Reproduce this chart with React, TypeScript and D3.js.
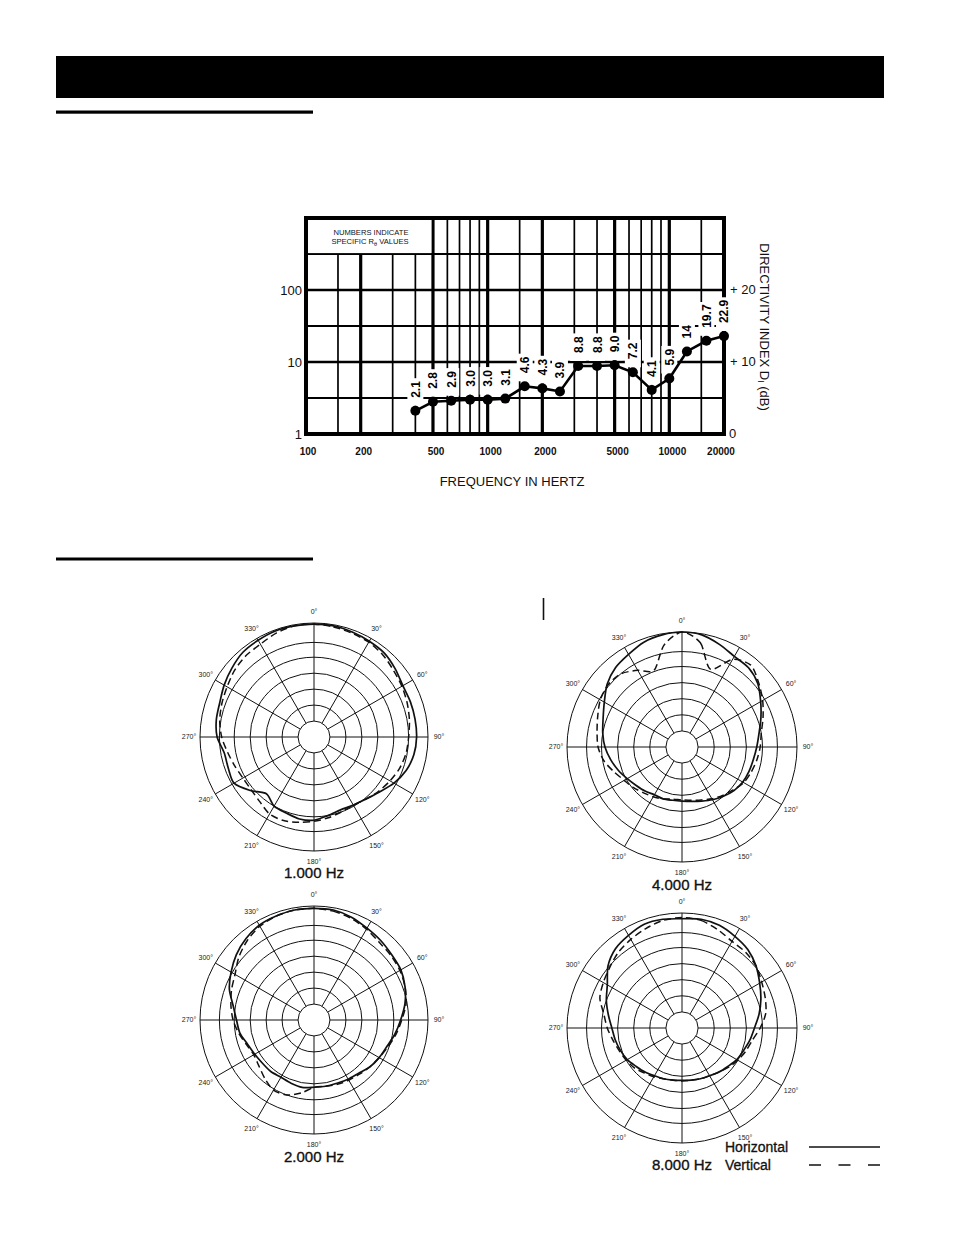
import * as d3 from "d3";

// ---- directivity chart data (1/3 octave centres) ----
const FREQS = [400, 500, 630, 800, 1000, 1250, 1600, 2000, 2500, 3150, 4000, 5000, 6300, 8000, 10000, 12500, 16000, 20000];
const Q_VALUES = [2.1, 2.8, 2.9, 3.0, 3.0, 3.1, 4.6, 4.3, 3.9, 8.8, 8.8, 9.0, 7.2, 4.1, 5.9, 14, 19.7, 22.9];
const Q_LABELS = ["2.1", "2.8", "2.9", "3.0", "3.0", "3.1", "4.6", "4.3", "3.9", "8.8", "8.8", "9.0", "7.2", "4.1", "5.9", "14", "19.7", "22.9"];

const X_TICKS = [100, 200, 500, 1000, 2000, 5000, 10000, 20000];
const X_GRID_MAJOR = [200, 500, 1000, 2000, 5000, 10000];
const X_GRID_MINOR = [150, 300, 400, 600, 700, 800, 900, 1500, 3000, 4000, 6000, 7000, 8000, 9000, 15000];
const Q_TICKS = [1, 10, 100];
const DI_TICKS = ["0", "+ 10", "+ 20"];
const Q_GRID_MAJOR = [10, 100];
const Q_GRID_MINOR = [3.162, 31.62, 316.2];

// ---- polar data, relative radius every 10 degrees ----
const POLAR_ANGLES = [0, 10, 20, 30, 40, 50, 60, 70, 80, 90, 100, 110, 120, 130, 140, 150, 160, 170,
  180, 190, 200, 210, 220, 230, 240, 250, 260, 270, 280, 290, 300, 310, 320, 330, 340, 350];
const POLAR_RINGS = [0.14, 0.28, 0.42, 0.56, 0.7, 0.83, 1];
const SPOKES = [0, 30, 60, 90, 120, 150, 180, 210, 240, 270, 300, 330];

const H_1000 = [0.99, 0.99, 0.98, 0.97, 0.96, 0.93, 0.9, 0.9, 0.9, 0.9, 0.89, 0.86, 0.81, 0.75, 0.71, 0.69, 0.68, 0.7,
  0.73, 0.73, 0.71, 0.7, 0.65, 0.73, 0.81, 0.8, 0.8, 0.85, 0.87, 0.88, 0.91, 0.94, 0.97, 0.98, 0.99, 0.99];
const V_1000 = [0.99, 0.98, 0.97, 0.96, 0.94, 0.91, 0.89, 0.87, 0.85, 0.83, 0.82, 0.8, 0.77, 0.74, 0.71, 0.69, 0.7, 0.72,
  0.74, 0.76, 0.78, 0.78, 0.74, 0.72, 0.72, 0.74, 0.77, 0.81, 0.84, 0.86, 0.88, 0.91, 0.93, 0.94, 0.97, 0.99];

const H_2000 = [0.98, 0.98, 0.96, 0.93, 0.91, 0.89, 0.88, 0.85, 0.81, 0.76, 0.72, 0.68, 0.66, 0.64, 0.61, 0.6, 0.59, 0.59,
  0.59, 0.6, 0.59, 0.58, 0.59, 0.59, 0.6, 0.62, 0.66, 0.68, 0.72, 0.79, 0.84, 0.89, 0.93, 0.96, 0.97, 0.98];
const V_2000 = [0.98, 0.97, 0.95, 0.92, 0.89, 0.88, 0.87, 0.85, 0.82, 0.77, 0.73, 0.69, 0.66, 0.64, 0.62, 0.61, 0.6, 0.59,
  0.59, 0.65, 0.7, 0.71, 0.67, 0.63, 0.61, 0.63, 0.67, 0.71, 0.74, 0.77, 0.8, 0.86, 0.91, 0.95, 0.97, 0.98];

const H_4000 = [1.0, 0.99, 0.95, 0.91, 0.9, 0.86, 0.79, 0.73, 0.68, 0.65, 0.63, 0.62, 0.61, 0.59, 0.56, 0.53, 0.5, 0.48,
  0.47, 0.47, 0.48, 0.48, 0.5, 0.52, 0.55, 0.59, 0.63, 0.67, 0.7, 0.73, 0.78, 0.85, 0.9, 0.93, 0.97, 0.99];
const V_4000 = [1.0, 0.92, 0.72, 0.88, 0.93, 0.87, 0.81, 0.75, 0.7, 0.68, 0.66, 0.64, 0.62, 0.58, 0.55, 0.52, 0.49, 0.47,
  0.46, 0.46, 0.48, 0.5, 0.52, 0.55, 0.58, 0.63, 0.69, 0.73, 0.75, 0.78, 0.82, 0.84, 0.83, 0.77, 0.71, 0.9];

const H_8000 = [0.95, 0.96, 0.95, 0.92, 0.89, 0.84, 0.78, 0.73, 0.68, 0.63, 0.6, 0.57, 0.55, 0.52, 0.5, 0.48, 0.47, 0.46,
  0.455, 0.46, 0.47, 0.48, 0.5, 0.52, 0.55, 0.57, 0.59, 0.61, 0.65, 0.7, 0.75, 0.84, 0.9, 0.93, 0.96, 0.96];
const V_8000 = [0.96, 0.95, 0.91, 0.87, 0.86, 0.84, 0.8, 0.77, 0.74, 0.68, 0.62, 0.59, 0.56, 0.53, 0.5, 0.48, 0.47, 0.46,
  0.46, 0.46, 0.47, 0.49, 0.51, 0.54, 0.56, 0.58, 0.61, 0.65, 0.69, 0.76, 0.79, 0.82, 0.86, 0.89, 0.92, 0.95];

const SANS = "'Liberation Sans', Arial, Helvetica, sans-serif";

function Polar({ cx, cy, r, title, titleY, h, v }: any) {
  const line = d3
    .lineRadial<number>()
    .angle((_d, i) => (POLAR_ANGLES[i] * Math.PI) / 180)
    .radius((d) => d * r)
    .curve(d3.curveCardinalClosed.tension(0.2));
  const inner = POLAR_RINGS[0] * r;
  return (
    <g>
      <g transform={`translate(${cx},${cy})`} fill="none" stroke="#111">
        {POLAR_RINGS.map((k) => (
          <circle key={k} r={k * r} strokeWidth={1} />
        ))}
        {SPOKES.map((a) => {
          const t = (a * Math.PI) / 180;
          return (
            <line key={a} x1={inner * Math.sin(t)} y1={-inner * Math.cos(t)}
              x2={r * Math.sin(t)} y2={-r * Math.cos(t)} strokeWidth={1} />
          );
        })}
        <path d={line(h) || ""} strokeWidth={1.7} />
        <path d={line(v) || ""} strokeWidth={1.5} strokeDasharray="7,4" />
        {SPOKES.map((a) => {
          const t = (a * Math.PI) / 180;
          const rr = r + 11;
          return (
            <text key={"l" + a} x={rr * Math.sin(t)} y={-rr * Math.cos(t)} dy="0.35em"
              textAnchor="middle" fontSize={7} fill="#222" stroke="none" fontFamily={SANS}>
              {a}°
            </text>
          );
        })}
      </g>
      <text x={cx} y={titleY} textAnchor="middle" fontSize={15} fontFamily={SANS}
        fill="#111" stroke="#111" strokeWidth={0.35}>
        {title}
      </text>
    </g>
  );
}

function DirectivityChart() {
  const x = d3.scaleLog().domain([100, 20000]).range([306, 724]);
  const y = d3.scaleLog().domain([1, 1000]).range([434, 218]);
  const [x0, x1] = x.range();
  const [y0, y1] = y.range();
  const pts = FREQS.map((f, i) => ({ px: x(f), py: y(Q_VALUES[i]), label: Q_LABELS[i] }));
  const line = d3.line<any>().x((d) => d.px).y((d) => d.py);
  const charW = (s: string) => s.length * 6.2 - (s.includes(".") ? 3 : 0);

  return (
    <g>
      {/* grid */}
      <g stroke="#000" fill="none">
        {X_GRID_MINOR.map((f) => (
          <line key={f} x1={x(f)} x2={x(f)} y1={y1} y2={y0} strokeWidth={1.7} />
        ))}
        {X_GRID_MAJOR.map((f) => (
          <line key={f} x1={x(f)} x2={x(f)} y1={y1} y2={y0} strokeWidth={3.2} />
        ))}
        {Q_GRID_MINOR.map((q) => (
          <line key={q} x1={x0} x2={x1} y1={y(q)} y2={y(q)} strokeWidth={1.8} />
        ))}
        {Q_GRID_MAJOR.map((q) => (
          <line key={q} x1={x0} x2={x1} y1={y(q)} y2={y(q)} strokeWidth={2.6} />
        ))}
      </g>

      {/* note box */}
      <rect x={x0} y={y1} width={x(500) - x0 - 1.6} height={y(316.2) - y1 - 0.9} fill="#fff" />
      <g fontFamily={SANS} fontSize={7.6} textAnchor="middle" fill="#111">
        <text x={371} y={235}>NUMBERS INDICATE</text>
        <text x={370} y={244}>
          SPECIFIC R<tspan fontSize={5.5} dy={1.5}>θ</tspan><tspan dy={-1.5}> VALUES</tspan>
        </text>
      </g>

      {/* frame */}
      <rect x={x0} y={y1} width={x1 - x0} height={y0 - y1} fill="none" stroke="#000" strokeWidth={4} />

      {/* label backgrounds */}
      {pts.map((p, i) => {
        const len = charW(p.label);
        const top = p.py - 13 - len - 4;
        return <rect key={i} x={p.px - 8} y={top} width={16} height={p.py - 5 - top} fill="#fff" />;
      })}

      {/* data */}
      <path d={line(pts) || ""} fill="none" stroke="#000" strokeWidth={2.6} />
      {pts.map((p, i) => (
        <circle key={i} cx={p.px} cy={p.py} r={5} fill="#000" />
      ))}
      {pts.map((p, i) => (
        <text key={i} x={p.px + 4.5} y={p.py - 13} transform={`rotate(-90 ${p.px + 4.5} ${p.py - 13})`}
          fontFamily={SANS} fontWeight="bold" fontSize={12} fill="#000">
          {p.label}
        </text>
      ))}

      {/* left axis */}
      <g fontFamily={SANS} fontSize={13} fill="#111" textAnchor="end">
        {Q_TICKS.map((q) => (
          <text key={q} x={302} y={y(q)} dy="0.36em">{q}</text>
        ))}
      </g>
      {/* right axis */}
      <g fontFamily={SANS} fontSize={13} fill="#111">
        {Q_TICKS.map((q, i) => (
          <text key={q} x={i === 0 ? 729 : 730} y={y(q) - 1} dy="0.36em">{DI_TICKS[i]}</text>
        ))}
      </g>
      <text x={760} y={327} transform="rotate(90 760 327)" textAnchor="middle" fontFamily={SANS}
        fontSize={13} fill="#111">
        DIRECTIVITY INDEX D<tspan fontSize={8.5} dy={2}>I</tspan><tspan dy={-2}> (dB)</tspan>
      </text>

      {/* bottom axis */}
      <g fontFamily={SANS} fontSize={10} fontWeight="bold" fill="#111" textAnchor="middle">
        {X_TICKS.map((f, i) => (
          <text key={f} x={x(f) + (i === 0 ? 2 : i === X_TICKS.length - 1 ? -3 : 3)} y={455}>{f}</text>
        ))}
      </g>
      <text x={512} y={486} textAnchor="middle" fontFamily={SANS} fontSize={13} fill="#111">
        FREQUENCY IN HERTZ
      </text>
    </g>
  );
}

export default function App() {
  return (
    <svg width={954} height={1235} viewBox="0 0 954 1235"
      style={{ position: "absolute", left: 0, top: 0, background: "#fff" }}>
      <rect x={0} y={0} width={954} height={1235} fill="#fff" />
      <rect x={56} y={56} width={828} height={42} fill="#000" />
      <rect x={56} y={110.5} width={257} height={3.2} fill="#000" />
      <rect x={56} y={557.5} width={257} height={3} fill="#000" />

      <DirectivityChart />

      <line x1={543.5} x2={543.5} y1={598} y2={620} stroke="#111" strokeWidth={1.6} />

      <Polar cx={314} cy={737} r={114} title="1.000 Hz" titleY={878} h={H_1000} v={V_1000} />
      <Polar cx={682} cy={747} r={115} title="4.000 Hz" titleY={890} h={H_4000} v={V_4000} />
      <Polar cx={314} cy={1020} r={114} title="2.000 Hz" titleY={1162} h={H_2000} v={V_2000} />
      <Polar cx={682} cy={1028} r={115} title="8.000 Hz" titleY={1170} h={H_8000} v={V_8000} />

      {/* legend */}
      <g fontFamily={SANS} fontSize={14} fill="#111" stroke="#111" strokeWidth={0.3}>
        <text x={725} y={1152}>Horizontal</text>
        <text x={725} y={1170}>Vertical</text>
      </g>
      <line x1={809} x2={880} y1={1147} y2={1147} stroke="#111" strokeWidth={1.6} />
      <line x1={809} x2={880} y1={1165} y2={1165} stroke="#111" strokeWidth={1.6} strokeDasharray="12,17.5" />
    </svg>
  );
}
